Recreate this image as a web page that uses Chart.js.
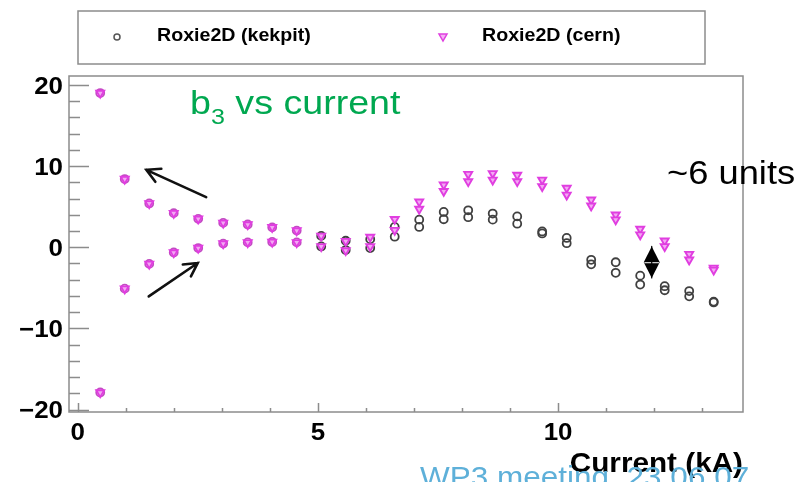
<!DOCTYPE html>
<html><head><meta charset="utf-8">
<script src="https://cdn.jsdelivr.net/npm/chart.js@4/dist/chart.umd.min.js"></script>
<style>html,body{margin:0;padding:0;background:#fff;overflow:hidden}canvas{display:block}</style>
</head><body>
<canvas id="c" width="798" height="482"></canvas>
<script>
// ---- data ----
const currents = [0.47, 0.98, 1.49, 2.0, 2.51, 3.03, 3.54, 4.05, 4.56, 5.07, 5.58, 6.09, 6.6, 7.11, 7.62, 8.13, 8.64, 9.15, 9.67, 10.18, 10.69, 11.2, 11.71, 12.22, 12.73, 13.24];
const kekpitUpper = [19.0, 8.4, 5.4, 4.2, 3.5, 3.0, 2.8, 2.45, 2.05, 1.4, 0.8, 1.0, 2.5, 3.4, 4.35, 4.55, 4.15, 3.8, 1.95, 1.15, -1.55, -1.85, -3.5, -4.8, -5.4, -6.7];
const kekpitLower = [-17.9, -5.1, -2.05, -0.65, -0.1, 0.45, 0.6, 0.65, 0.6, 0.1, -0.35, -0.1, 1.3, 2.5, 3.45, 3.7, 3.4, 2.9, 1.7, 0.5, -2.1, -3.15, -4.6, -5.3, -6.05, -6.8];
const cernUpper = [19.0, 8.4, 5.4, 4.2, 3.5, 3.0, 2.8, 2.45, 2.05, 1.4, 0.75, 1.25, 3.45, 5.6, 7.7, 9.0, 9.1, 8.9, 8.3, 7.3, 5.85, 4.0, 2.25, 0.8, -0.85, -2.55];
const cernLower = [-17.9, -5.1, -2.05, -0.65, -0.1, 0.45, 0.6, 0.65, 0.6, 0.1, -0.4, 0.1, 2.1, 4.7, 6.9, 8.1, 8.3, 8.1, 7.5, 6.45, 5.1, 3.4, 1.55, 0.1, -1.55, -2.8];
const seriesNames = ['Roxie2D (kekpit)', 'Roxie2D (cern)'];
const yTickValues = [-20, -10, 0, 10, 20];
const xTickValues = [0, 5, 10];
const xAxisTitle = 'Current (kA)';
const plotTitleMain = 'b';
const plotTitleSub = '3';
const plotTitleRest = ' vs current';
const noteText = '~6 units';
const footerText = 'WP3 meeting  23.06.07';

// ---- build ----
function pairs(a, b) {
  const out = [];
  currents.forEach((x, i) => { out.push({x: x, y: a[i]}); out.push({x: x, y: b[i]}); });
  return out;
}
const FONT = '"Liberation Sans", Arial, Helvetica, sans-serif';
const MAG = '#e03ee0';
const kekData = pairs(kekpitUpper, kekpitLower);
const kekColors = kekData.map(p => p.x < 4.8 ? '#c24cc2' : '#404040');

// text drawn with a slight horizontal stretch, as in the reference picture
function stretchText(ctx, str, px, py, sx, align) {
  ctx.save();
  ctx.translate(px, py);
  ctx.scale(sx, 1);
  ctx.textAlign = align;
  ctx.fillText(str, 0, 0);
  const w = ctx.measureText(str).width * sx;
  ctx.restore();
  return w;
}

const deco = {
  id: 'deco',
  beforeDatasetsDraw(chart) {
    const {ctx, chartArea: a, scales: {x, y}} = chart;
    ctx.save();
    ctx.strokeStyle = '#8c8c8c';
    ctx.lineWidth = 1.5;
    ctx.strokeRect(a.left, a.top, a.right - a.left, a.bottom - a.top);
    ctx.beginPath();
    for (let v = -20; v <= 20; v += 2) {
      const py = Math.round(y.getPixelForValue(v)) + 0.5;
      const len = v % 10 === 0 ? 20 : 11;
      ctx.moveTo(a.left, py); ctx.lineTo(a.left + len, py);
    }
    for (let v = 0; v <= 13; v++) {
      const px = Math.round(x.getPixelForValue(v)) + 0.5;
      const len = v % 5 === 0 ? 9 : 4;
      ctx.moveTo(px, a.bottom); ctx.lineTo(px, a.bottom - len);
    }
    ctx.stroke();
    ctx.restore();
  },
  afterDraw(chart) {
    const {ctx, chartArea: a, scales: {x, y}} = chart;
    ctx.save();
    // tick labels
    ctx.fillStyle = '#000';
    ctx.font = 'bold 24px ' + FONT;
    ctx.textBaseline = 'middle';
    yTickValues.forEach(v => {
      const lbl = v < 0 ? '\u2212' + Math.abs(v) : String(v);
      stretchText(ctx, lbl, 63, y.getPixelForValue(v) + 2, 1.08, 'right');
    });
    ctx.textBaseline = 'alphabetic';
    xTickValues.forEach(v => stretchText(ctx, String(v), x.getPixelForValue(v), 440, 1.08, 'center'));
    ctx.font = 'bold 27px ' + FONT;
    stretchText(ctx, xAxisTitle, a.right, 472, 1.1, 'right');

    // legend
    ctx.strokeStyle = '#8c8c8c'; ctx.lineWidth = 1.5;
    ctx.strokeRect(78, 11, 627, 53);
    ctx.font = 'bold 18px ' + FONT;
    ctx.textBaseline = 'middle';
    stretchText(ctx, seriesNames[0], 157, 36, 1.09, 'left');
    stretchText(ctx, seriesNames[1], 482, 36, 1.09, 'left');
    ctx.lineWidth = 1.5; ctx.strokeStyle = '#555';
    ctx.beginPath(); ctx.arc(117, 37, 3, 0, Math.PI * 2); ctx.stroke();
    ctx.strokeStyle = MAG; ctx.fillStyle = '#f4b0f4';
    ctx.beginPath(); ctx.moveTo(439, 34); ctx.lineTo(447, 34); ctx.lineTo(443, 41); ctx.closePath(); ctx.fill(); ctx.stroke();

    // title
    ctx.fillStyle = '#00a850';
    ctx.textBaseline = 'alphabetic';
    ctx.font = '33px ' + FONT;
    let tx = 190;
    tx += stretchText(ctx, plotTitleMain, tx, 114, 1.14, 'left');
    ctx.font = '22px ' + FONT;
    tx += stretchText(ctx, plotTitleSub, tx, 124, 1.14, 'left');
    ctx.font = '33px ' + FONT;
    stretchText(ctx, plotTitleRest, tx, 114, 1.14, 'left');

    // note
    ctx.fillStyle = '#000';
    ctx.font = '33px ' + FONT;
    stretchText(ctx, noteText, 667, 184, 1.1, 'left');

    // arrows (data coordinates)
    function arrow(x0, y0, x1, y1) {
      const X0 = x.getPixelForValue(x0), Y0 = y.getPixelForValue(y0);
      const X1 = x.getPixelForValue(x1), Y1 = y.getPixelForValue(y1);
      const ang = Math.atan2(Y1 - Y0, X1 - X0);
      ctx.strokeStyle = '#111'; ctx.lineWidth = 2.6; ctx.lineCap = 'round';
      ctx.beginPath(); ctx.moveTo(X0, Y0); ctx.lineTo(X1, Y1);
      const h = 15, s = 0.5;
      ctx.moveTo(X1 - h * Math.cos(ang - s), Y1 - h * Math.sin(ang - s));
      ctx.lineTo(X1, Y1);
      ctx.lineTo(X1 - h * Math.cos(ang + s), Y1 - h * Math.sin(ang + s));
      ctx.stroke();
    }
    arrow(2.675, 6.18, 1.43, 9.54);
    arrow(1.48, -6.06, 2.5, -1.94);

    // double-headed arrow
    const dx = x.getPixelForValue(11.95);
    const dTop = y.getPixelForValue(0.1), dBot = y.getPixelForValue(-3.79);
    const dMid = (dTop + dBot) / 2;
    ctx.fillStyle = '#000';
    ctx.beginPath();
    ctx.moveTo(dx, dTop); ctx.lineTo(dx + 8, dMid); ctx.lineTo(dx, dBot); ctx.lineTo(dx - 8, dMid); ctx.closePath();
    ctx.fill();
    ctx.strokeStyle = '#fff'; ctx.lineWidth = 1;
    ctx.beginPath(); ctx.moveTo(dx - 7, dMid + 0.5); ctx.lineTo(dx + 7, dMid + 0.5); ctx.stroke();
    ctx.strokeStyle = '#000'; ctx.lineWidth = 1.2;
    ctx.beginPath(); ctx.moveTo(dx, dTop); ctx.lineTo(dx, dBot); ctx.stroke();

    // footer
    ctx.fillStyle = '#5eb0d9';
    ctx.font = '30px ' + FONT;
    stretchText(ctx, footerText, 420, 487, 1.05, 'left');
    ctx.restore();
  }
};

new Chart(document.getElementById('c'), {
  type: 'scatter',
  data: {
    datasets: [
      {
        label: seriesNames[0], data: kekData, order: 1,
        pointStyle: 'circle', pointRadius: 4, borderWidth: 1.8,
        pointBorderColor: kekColors, backgroundColor: 'rgba(255,255,255,0)'
      },
      {
        label: seriesNames[1], data: pairs(cernUpper, cernLower), order: 0,
        pointStyle: 'triangle', rotation: 180, pointRadius: 4.6, borderWidth: 1.9,
        pointBorderColor: MAG, backgroundColor: '#f3a8f3', pointBackgroundColor: '#f3a8f3'
      }
    ]
  },
  options: {
    responsive: false, animation: false, devicePixelRatio: 1, events: [],
    layout: {padding: {left: 69, right: 55, top: 76, bottom: 70}},
    scales: {
      x: {type: 'linear', min: -0.18, max: 13.85, display: false},
      y: {type: 'linear', min: -20.3, max: 21.1, display: false}
    },
    plugins: {legend: {display: false}, tooltip: {enabled: false}},
    clip: false
  },
  plugins: [deco]
});
</script>
</body></html>
